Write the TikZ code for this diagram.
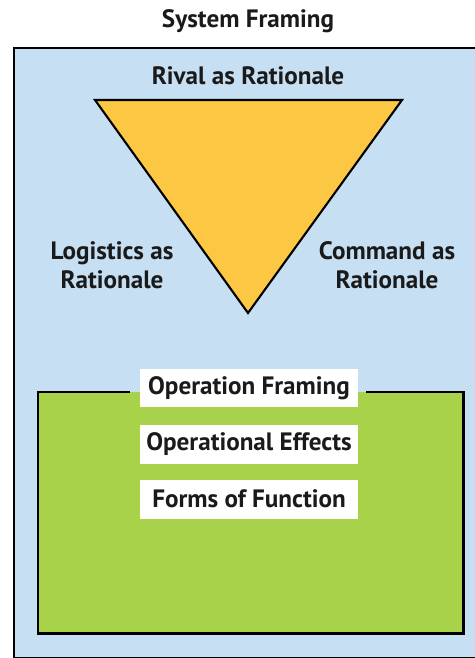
\documentclass[tikz,border=0pt]{standalone}
\usepackage{fontspec}
\setmainfont{PT Sans}
\usetikzlibrary{positioning}
\definecolor{systemblue}{HTML}{C6DFF3}
\definecolor{rivalyellow}{HTML}{FCC843}
\definecolor{operationgreen}{HTML}{A9D24B}
\definecolor{inktext}{HTML}{1A1A1A}
\tikzset{
	label text/.style={font=\fontsize{14.3}{16.5}\selectfont\bfseries, text=inktext, align=center},
	frame box/.style={rectangle, fill=white, minimum width=4.36cm, minimum height=0.78cm, label text}
}

\begin{document}
\begin{tikzpicture}[x=0.02cm, y=-0.02cm]
	\useasboundingbox (0, 0) rectangle (475, 658);
	
	\node [label text] at (248, 21) (system_title){System Framing};
	\node [draw, rectangle, fill=systemblue, line width=1pt, minimum width=9.5cm, minimum height=12.2cm, anchor=north west] at (13, 47) (system_box){};
	
	\coordinate (tri_left) at (95, 100);
	\coordinate (tri_right) at (402, 100);
	\coordinate (tri_bottom) at (248, 313);
	\draw [fill=rivalyellow, line width=1.2pt, line join=miter] (tri_left) -- (tri_right) -- (tri_bottom) -- cycle;
	
	\node [label text] at (248, 76) (rival){Rival as Rationale};
	\node [label text] at (112, 265) (logistics){Logistics as\\Rationale};
	\node [label text] at (387, 265) (command){Command as\\Rationale};
	
	\node [rectangle, fill=operationgreen, minimum width=8.5cm, minimum height=4.82cm, anchor=north west] at (38, 392) (operation_box){};
	\coordinate (gap_left) at (130, 392);
	\coordinate (gap_right) at (366, 392);
	\draw [line width=1.5pt, line join=miter] (gap_left) -- (operation_box.north west) -- (operation_box.south west) -- (operation_box.south east) -- (operation_box.north east) -- (gap_right);
	
	\node [frame box] at (249, 388) (frame1){Operation Framing};
	\node [frame box] at (249, 444) (frame2){Operational Effects};
	\node [frame box] at (249, 499) (frame3){Forms of Function};
	
\end{tikzpicture}
\end{document}
